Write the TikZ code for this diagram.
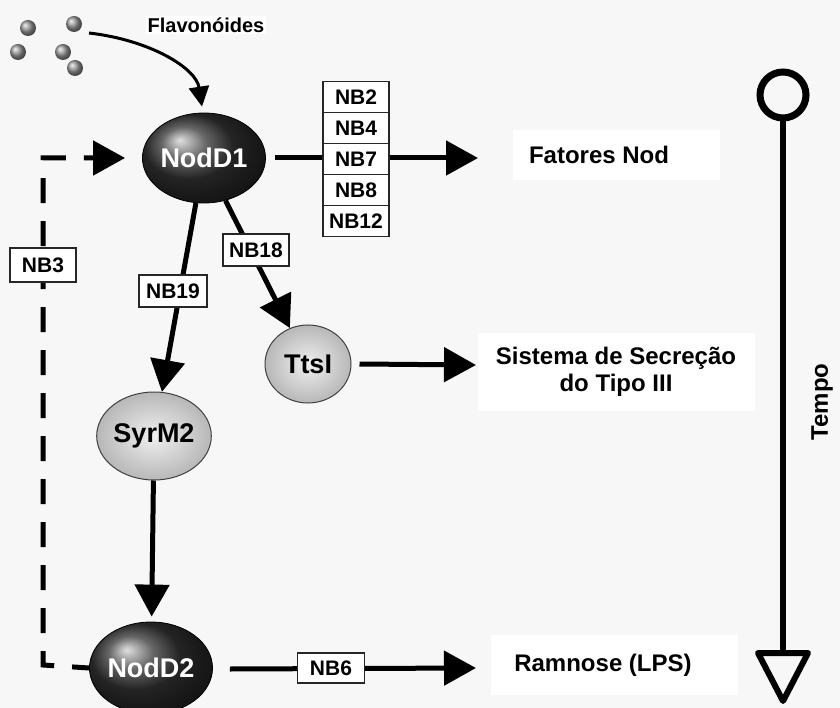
\documentclass[tikz,border=0pt]{standalone}
\usepackage{fontspec}
\setmainfont{Liberation Sans}
\usetikzlibrary{arrows.meta,shapes.geometric,calc}
\definecolor{bgcol}{RGB}{247,247,247}
\begin{document}
\begin{tikzpicture}[x=1pt,y=-1pt,
  lbl/.style={font=\bfseries\fontsize{24}{27}\selectfont, fill=white, inner sep=0pt, align=center},
  nb/.style={draw=black!85, line width=1.2pt, fill=white, font=\bfseries\fontsize{21}{23}\selectfont, minimum width=66pt, minimum height=31pt, inner sep=0pt},
  darkball/.style={ellipse, draw=black, line width=0.8pt, ball color=black!80, text=white, font=\bfseries\fontsize{27}{30}\selectfont, inner sep=0pt},
  lightball/.style={ellipse, draw=black!75, line width=1pt, shading=radial, inner color=black!6, outer color=black!28, font=\bfseries\fontsize{27}{30}\selectfont, inner sep=0pt},
  conn/.style={line width=5pt},
  bigtip/.style={-{Triangle[length=32pt,width=34pt]}},
  flavdot/.style={circle, minimum size=16pt, inner sep=0pt, ball color=black!40},
]
\fill[bgcol] (0,0) rectangle (840,708);
\useasboundingbox (0,0) rectangle (840,708);

% flavonoid dots
\node[flavdot] (d1) at (28,28) {};
\node[flavdot] (d2) at (74,24) {};
\node[flavdot] (d3) at (18,52) {};
\node[flavdot] (d4) at (63,52) {};
\node[flavdot] (d5) at (75,68) {};
\node[font=\bfseries\fontsize{20}{23}\selectfont, fill=white, inner sep=2pt] (flav) at (206,25) {Flavonóides};

% label boxes
\node[lbl, minimum width=207pt, minimum height=50pt] (fatores) at (616,155) {\makebox[0pt]{\hspace*{-34pt}Fatores Nod}};
\node[lbl, minimum width=277pt, minimum height=77pt] (sistema) at (616,372) {Sistema de Secreção\\do Tipo III};
\node[lbl, minimum width=247pt, minimum height=60pt] (ramnose) at (614,665) {\makebox[0pt]{\hspace*{-22pt}Ramnose (LPS)}};

% main nodes
\node[darkball, minimum width=108pt, minimum height=90pt] (nodd1) at (204,158) {NodD1};
\node[lightball, minimum width=106pt, minimum height=88pt] (syrm2) at (154,436) {SyrM2};
\node[lightball, minimum width=86pt, minimum height=78pt] (ttsi) at (308,364) {TtsI};
\node[darkball, minimum width=108pt, minimum height=92pt] (nodd2) at (151,668) {NodD2};

% flavonoid arrow
\draw[line width=3pt, -{Triangle[length=20pt,width=20pt]}]
  ($(d2)+(15,9)$) .. controls (150,40) and (196,68) .. ($(nodd1.north)+(-2,-6)$);

% connectors
\coordinate (fatip) at (478,158);
\coordinate (sstip) at (476,365);
\coordinate (rmtip) at (476,668);
\draw[conn,bigtip] (nodd1.east) ++(9,0) -- (fatip);
\draw[conn,bigtip] (nodd1) -- (syrm2);
\draw[conn,bigtip] (nodd1) -- (ttsi);
\draw[conn,bigtip] (ttsi.east) ++(8,0) -- (sstip);
\draw[conn,bigtip,shorten >=5pt] (syrm2) -- (nodd2);
\draw[conn,bigtip] (nodd2.east) ++(17,1) -- (rmtip);
\draw[conn, dash pattern=on 25pt off 18pt, dash phase=8pt, bigtip, shorten >=17pt]
  (nodd2.west) -- (43,665) -- (43,158) -- (nodd1.west);

% NB boxes
\node[nb] (nb2) at (356,97) {NB2};
\node[nb] (nb4) at (356,128) {NB4};
\node[nb] (nb7) at (356,159) {NB7};
\node[nb] (nb8) at (356,190) {NB8};
\node[nb] (nb12) at (356,221) {NB12};
\node[nb, minimum height=34pt] (nb3) at (43,265) {NB3};
\node[nb, minimum width=68pt, minimum height=32pt] (nb19) at (173,291) {NB19};
\node[nb, minimum height=32pt] (nb18) at (256,250) {NB18};
\node[nb, minimum width=67pt, minimum height=30pt] (nb6) at (331,668) {NB6};

% time axis
\node[circle, draw, line width=7pt, minimum size=46pt, inner sep=0pt] (tstart) at (783,95) {};
\coordinate (tend) at (783,651);
\draw[line width=6pt] (tstart) -- (tend);
\draw[line width=6pt, line join=round] (758,653) -- (808,653) -- (783,701) -- cycle;
\node[rotate=90, font=\bfseries\fontsize{24}{27}\selectfont] (tempo) at (822,402) {Tempo};
\end{tikzpicture}
\end{document}
